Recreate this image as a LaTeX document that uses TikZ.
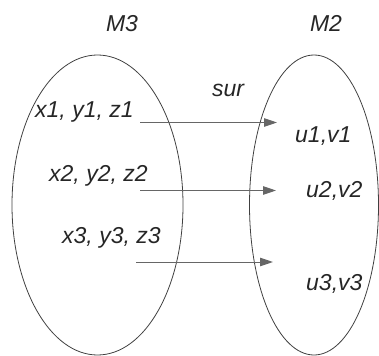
\documentclass[tikz,border=0pt]{standalone}
\usepackage{fontspec}
\setmainfont{Liberation Sans}
\usetikzlibrary{shapes.geometric,arrows.meta}
\begin{document}
\begin{tikzpicture}[x=1pt,y=-1pt,
  setshape/.style={ellipse,draw=black!75,line width=0.8pt,inner sep=0pt},
  lbl/.style={inner sep=0pt,anchor=base west,text=black!85,font=\fontsize{23}{26}\selectfont\itshape},
  arr/.style={draw=black!60,line width=1pt,-{Triangle[length=13pt,width=8.5pt]}}]
\useasboundingbox (0,0) rectangle (379,355);
\node[setshape,minimum width=171pt,minimum height=300pt] (leftset) at (97.5,205) {};
\node[setshape,minimum width=129pt,minimum height=300pt] (rightset) at (314,205) {};
\node[lbl,anchor=base] (m3) at (122,32) {M3};
\node[lbl,anchor=base] (m2) at (326,32) {M2};
\node[lbl] (sur) at (212,97) {sur};
\node[lbl] (a1) at (35,118) {x1, y1, z1};
\node[lbl] (a2) at (49,181) {x2, y2, z2};
\node[lbl] (a3) at (62,243) {x3, y3, z3};
\node[lbl] (b1) at (295,143) {u1,v1};
\node[lbl] (b2) at (306,197) {u2,v2};
\node[lbl] (b3) at (306,290) {u3,v3};
\coordinate (s1) at (140,122.5);
\coordinate (e1) at (277,122.5);
\coordinate (s2) at (140,190.5);
\coordinate (e2) at (276,190.5);
\coordinate (s3) at (136,262);
\coordinate (e3) at (273,262);
\draw[arr] (s1) -- (e1);
\draw[arr] (s2) -- (e2);
\draw[arr] (s3) -- (e3);
\end{tikzpicture}
\end{document}
